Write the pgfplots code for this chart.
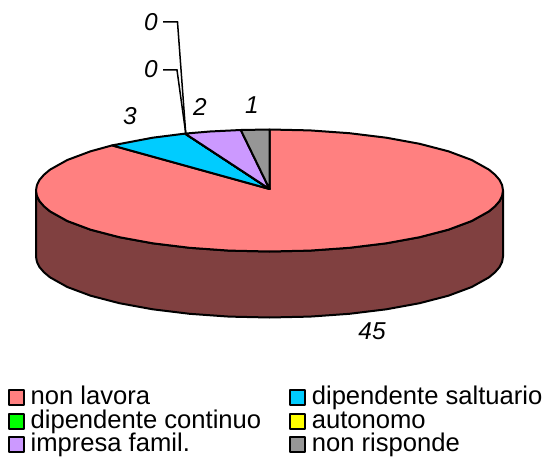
\documentclass[border=0pt]{standalone}
\usepackage{fontspec}
\setmainfont{Liberation Sans}
\usepackage{pgfplots}
\pgfplotsset{compat=1.18}
\definecolor{pinkc}{HTML}{FF8080}
\definecolor{sidec}{HTML}{804040}
\definecolor{bluec}{HTML}{00CCFF}
\definecolor{greenc}{HTML}{00FF00}
\definecolor{yellowc}{HTML}{FFFF00}
\definecolor{purplec}{HTML}{CC99FF}
\definecolor{greyc}{HTML}{969696}
\pgfplotsset{
  sl/.style={draw=black, line width=2bp, line join=round},
  slice/.style={sl, fill=#1, legend image code/.code={\draw[draw=black, line width=1.6bp, fill=#1] (0bp,-7bp) rectangle (15bp,8bp);}},
}
\tikzset{lab/.style={font=\fontsize{24.5}{24.5}\selectfont\itshape}}
\begin{document}
\begin{tikzpicture}
\begin{axis}[
  scale only axis, width=543bp, height=457bp,
  xmin=0, xmax=543, ymin=0, ymax=457, y dir=reverse,
  hide axis, clip=false,
  legend columns=2,
  legend cell align=left,
  legend style={at={(axis cs:8,386.5)}, anchor=north west, draw=none, fill=none,
    inner sep=0pt, outer sep=0pt,
    font=\fontsize{25.7}{25.7}\selectfont,
    nodes={inner sep=0pt, outer sep=0pt, text height=18bp, text depth=5.5bp},
    row sep=0pt,
    /tikz/every odd column/.append style={column sep=6bp},
    /tikz/every even column/.append style={column sep=28bp}},
]
\addplot[forget plot, draw=none] coordinates {(0,0) (543,457)};
% side wall
\addplot[forget plot, sl, fill=sidec] coordinates {
(503,190.5)(502.1,195.8)(499.5,201.1)(495,206.3)(488.9,211.4)(471.7,221)(448.4,229.7)(419.6,237.2)(386.3,243.3)(349.4,247.8)(310,250.6)(269.5,251.5)(229,250.6)(189.6,247.8)(152.7,243.3)(119.4,237.2)(90.6,229.7)(67.3,221)(50.1,211.4)(44,206.3)(39.5,201.1)(36.9,195.8)(36,190.5)
(36,256.5)(36.9,261.8)(39.5,267.1)(44,272.3)(50.1,277.4)(67.3,287)(90.6,295.7)(119.4,303.2)(152.7,309.3)(189.6,313.8)(229,316.6)(269.5,317.5)(310,316.6)(349.4,313.8)(386.3,309.3)(419.6,303.2)(448.4,295.7)(471.7,287)(488.9,277.4)(495,272.3)(499.5,267.1)(502.1,261.8)(503,256.5)
} --cycle;
% non lavora 45
\addplot[slice=pinkc] coordinates {
(269.5,189)(269.5,129.5)(310,130.4)(349.4,133.2)(386.3,137.7)(419.6,143.8)(448.4,151.3)(471.7,160)(488.9,169.6)(495,174.7)(499.5,179.9)(502.1,185.2)(503,190.5)(502.1,195.8)(499.5,201.1)(495,206.3)(488.9,211.4)(471.7,221)(448.4,229.7)(419.6,237.2)(386.3,243.3)(349.4,247.8)(310,250.6)(269.5,251.5)(229,250.6)(189.6,247.8)(152.7,243.3)(119.4,237.2)(90.6,229.7)(67.3,221)(50.1,211.4)(44,206.3)(39.5,201.1)(36.9,195.8)(36,190.5)(36.9,185.2)(39.5,179.9)(44,174.7)(50.1,169.6)(67.3,160)(90.6,151.3)(112.1,145.4)
} --cycle;
\addlegendentry{non lavora}
% dipendente saltuario 3
\addplot[slice=bluec] coordinates {
(269.5,189)(112.1,145.4)(152.7,137.7)(185.1,133.6)
} --cycle;
\addlegendentry{dipendente saltuario}
% dipendente continuo 0
\addplot[slice=greenc] coordinates {(269.5,189)(185.1,133.6)} --cycle;
\addlegendentry{dipendente continuo}
% autonomo 0
\addplot[slice=yellowc] coordinates {(269.5,189)(185.1,133.6)} --cycle;
\addlegendentry{autonomo}
% impresa famil. 2
\addplot[slice=purplec] coordinates {
(269.5,189)(185.1,133.6)(210,131.5)(240.8,130)
} --cycle;
\addlegendentry{impresa famil.}
% non risponde 1
\addplot[slice=greyc] coordinates {
(269.5,189)(240.8,130)(269.5,129.5)
} --cycle;
\addlegendentry{non risponde}
% leaders
\addplot[forget plot, draw=black, line width=1.5bp] coordinates {(163,22)(177.5,22)(185.7,133)};
\addplot[forget plot, draw=black, line width=1.5bp] coordinates {(163,70)(177,70)(185.7,133)};
% labels
\node[lab] at (axis cs:151,22) {0};
\node[lab] at (axis cs:151,69) {0};
\node[lab] at (axis cs:130,116) {3};
\node[lab] at (axis cs:200,107) {2};
\node[lab] at (axis cs:252,105) {1};
\node[lab] at (axis cs:372,331) {45};
\end{axis}
\end{tikzpicture}
\end{document}
